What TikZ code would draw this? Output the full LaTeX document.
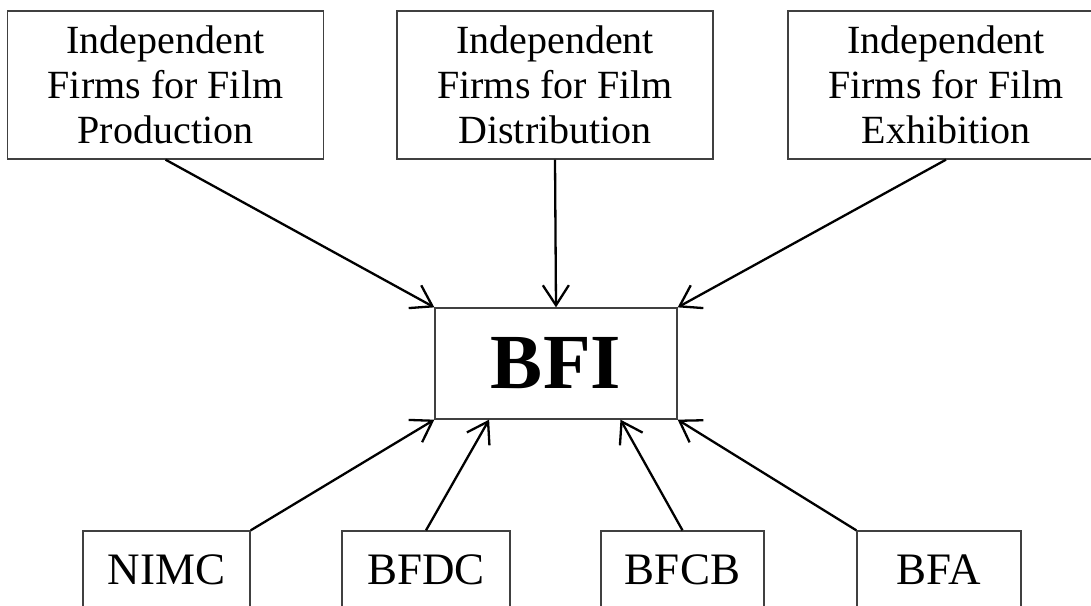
\documentclass[tikz,border=0pt]{standalone}
\usepackage{fontspec}
\setmainfont{Liberation Serif}
\usepackage{tikz}
\usetikzlibrary{arrows.meta}
\usetikzlibrary{calc,positioning}

\begin{document}
\begin{tikzpicture}[x=1pt, y=-1pt, firmbox/.style = {draw=black!75, line width=1.3pt, align=center, inner sep=0pt, minimum width=316pt, minimum height=148pt, font=\fontsize{40}{45}\selectfont}, bodybox/.style = {draw=black!75, line width=1.3pt, inner sep=0pt, minimum height=78pt, font=\fontsize{45}{50}\selectfont}, feed/.style = {draw=black, line width=2.3pt, -{Straight Barb[length=20pt,width=26pt,line width=2.3pt]}}, ]
			\clip (0,0) rectangle (1091,605);
			% firms at the top
			\node [firmbox] (prod) at (165.5,85) {Independent\\Firms for Film\\Production};
			\node [firmbox] (dist) at (555,85) {Independent\\Firms for Film\\Distribution};
			\node [firmbox] (exh) at (946,85) {Independent\\Firms for Film\\Exhibition};
			% the institute
			\node [draw=black!75, line width=1.3pt, inner sep=0pt, minimum width=242pt, minimum height=111pt, font=\fontsize{78}{80}\selectfont\bfseries] (bfi) at (556,363.5) {BFI};
			% bodies at the bottom
			\node [bodybox, minimum width=167pt] (nimc) at (166.5,570) {NIMC};
			\node [bodybox, minimum width=168pt] (bfdc) at (426,570) {BFDC};
			\node [bodybox, minimum width=163pt] (bfcb) at (682.5,570) {BFCB};
			\node [bodybox, minimum width=164pt] (bfa) at (939,570) {BFA};
			\draw [feed] (prod.south) -- (bfi.north west);
			\draw [feed] (dist.south) -- (bfi.north);
			\draw [feed] (exh.south) -- (bfi.north east);
			\draw [feed] (nimc.north east) -- (bfi.south west);
			\draw [feed] (bfdc.north) -- ($(bfi.south west)!0.225!(bfi.south east)$);
			\draw [feed] (bfcb.north) -- ($(bfi.south east)!0.235!(bfi.south west)$);
			\draw [feed] (bfa.north west) -- (bfi.south east);
		\end{tikzpicture}
\end{document}
